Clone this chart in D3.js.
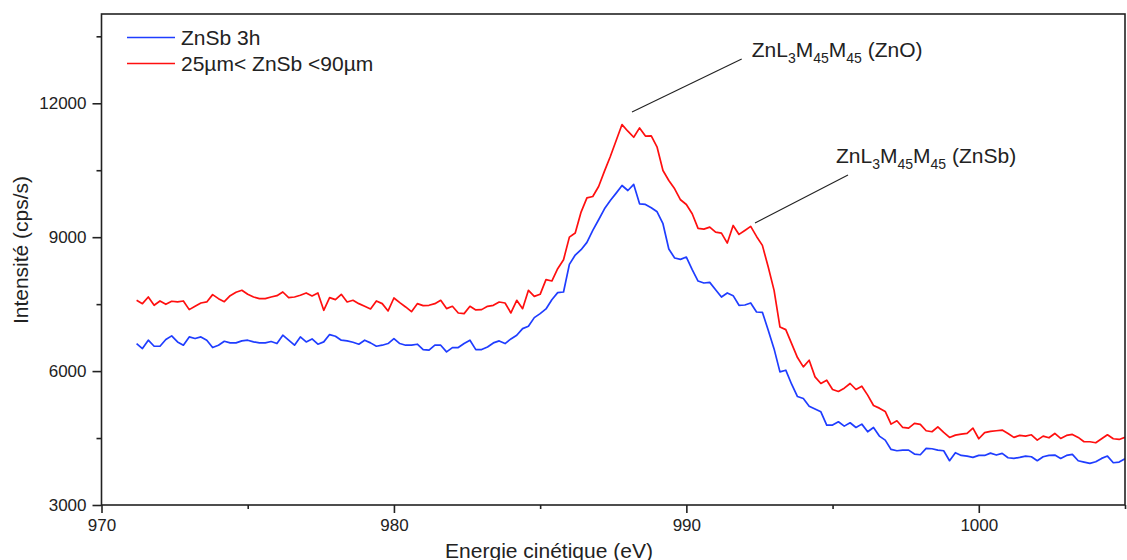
<!DOCTYPE html>
<html><head><meta charset="utf-8">
<script src="https://cdn.jsdelivr.net/npm/d3@7"></script>
<style>
body{margin:0;background:#fff}
svg{display:block}
text{font-family:"Liberation Sans",Arial,Helvetica,sans-serif;fill:#222}
</style>
</head><body>
<svg id="chart" width="1127" height="560"></svg>
<script>
// ---- data ----
const energyStart = 971.2;   // eV, first channel
const energyStep = 0.2;      // eV per channel
const seriesNames = ["ZnSb 3h", "25µm< ZnSb <90µm"];
const seriesColors = ["#1f3dff", "#ff0f0f"];
const blueCounts = [
 6617,6505,6692,6557,6557,6707,6789,6654,6580,6766,
 6729,6766,6692,6527,6580,6669,6632,6632,6677,6692,
 6654,6632,6632,6662,6617,6804,6692,6580,6766,6654,
 6721,6602,6654,6818,6781,6692,6677,6647,6602,6692,
 6632,6557,6580,6617,6729,6617,6580,6580,6602,6483,
 6468,6580,6580,6430,6527,6527,6617,6692,6480,6482,
 6541,6631,6676,6616,6721,6802,6952,7004,7198,7287,
 7392,7600,7757,7772,8391,8600,8719,8883,9152,9390,
 9636,9823,9987,10158,10046,10181,9748,9733,9659,9569,
 9301,8734,8533,8503,8555,8272,8018,7973,7988,7824,
 7660,7750,7690,7474,7481,7526,7324,7317,6914,6497,
 5982,6020,5706,5430,5386,5214,5150,5088,4790,4790,
 4864,4767,4842,4737,4812,4641,4737,4544,4454,4245,
 4216,4230,4230,4141,4126,4268,4260,4230,4216,3992,
 4171,4111,4096,4066,4111,4110,4163,4119,4156,4059,
 4044,4066,4096,4081,3992,4081,4111,4119,4044,4111,
 4134,3992,3962,3932,3969,4044,4096,3947,3962,4037
];
const redCounts = [
 7586,7511,7660,7474,7571,7496,7564,7549,7571,7377,
 7452,7526,7549,7713,7623,7556,7690,7765,7810,7720,
 7660,7623,7623,7660,7690,7772,7646,7660,7698,7750,
 7683,7750,7362,7646,7601,7720,7549,7586,7511,7452,
 7392,7571,7511,7347,7638,7534,7437,7332,7511,7467,
 7474,7511,7586,7400,7452,7302,7288,7452,7370,7377,
 7451,7474,7548,7526,7302,7586,7399,7809,7675,7720,
 8048,8018,8294,8495,9002,9092,9562,9882,9912,10136,
 10479,10807,11165,11523,11374,11239,11448,11265,11269,11016,
 10494,10270,10084,9838,9733,9524,9196,9181,9226,9114,
 9092,8868,9263,9062,9151,9241,9017,8816,8331,7809,
 6989,6929,6616,6303,6094,6243,5870,5722,5796,5588,
 5543,5617,5722,5588,5662,5461,5230,5170,5096,4812,
 4887,4737,4723,4827,4805,4663,4641,4752,4626,4514,
 4566,4588,4603,4723,4484,4620,4648,4663,4678,4603,
 4514,4559,4544,4573,4454,4544,4506,4603,4491,4559,
 4581,4514,4417,4417,4394,4484,4573,4484,4469,4514
];
const xMajorTicks = [970, 980, 990, 1000];
const xMinorTicks = [975, 985, 995, 1005];
const yMajorTicks = [3000, 6000, 9000, 12000];
const yMinorTicks = [4500, 7500, 10500, 13500];
const xDomain = [970, 1005];
const yDomain = [3000, 14000];
const xTitle = "Energie cinétique (eV)";
const yTitle = "Intensité (cps/s)";
// annotations: [label parts, anchor energy, anchor intensity]
const annotations = [
  {parts: ["ZnL", "3", "M", "45", "M", "45", " (ZnO)"], e: 988.2, v: 11750, textE: 982.3 + 10.1, textV: 13050},
  {parts: ["ZnL", "3", "M", "45", "M", "45", " (ZnSb)"], e: 992.5, v: 9270, textE: 995.1, textV: 10650}
];

// ---- layout ----
const L = 101.5, R = 1125, T = 14, B = 505;
const svg = d3.select("#chart");
const x = d3.scaleLinear().domain(xDomain).range([L, R]);
const y = d3.scaleLinear().domain(yDomain).range([B, T]);
const energies = blueCounts.map((_, i) => +(energyStart + i * energyStep).toFixed(2));

svg.append("defs").append("clipPath").attr("id", "clip")
  .append("rect").attr("x", L).attr("y", T).attr("width", R - L).attr("height", B - T);

const line = d3.line().x((d, i) => x(energies[i])).y(d => y(d));
[blueCounts, redCounts].forEach((s, k) => {
  svg.append("path").datum(s).attr("clip-path", "url(#clip)")
    .attr("fill", "none").attr("stroke", seriesColors[k]).attr("stroke-width", 1.7)
    .attr("stroke-linejoin", "round").attr("d", line);
});

// frame
svg.append("rect").attr("x", L).attr("y", T).attr("width", R - L).attr("height", B - T)
  .attr("fill", "none").attr("stroke", "#222").attr("stroke-width", 1.6);

function styleAxis(g) {
  g.select(".domain").remove();
  g.selectAll(".tick line").attr("stroke", "#222").attr("stroke-width", 1.6);
  g.selectAll("text").attr("font-size", 17).attr("fill", "#222")
    .style("font-family", '"Liberation Sans",Arial,sans-serif');
}
// bottom axis
svg.append("g").attr("transform", `translate(0,${B})`)
  .call(d3.axisBottom(x).tickValues(xMajorTicks).tickSize(8).tickPadding(6).tickFormat(d3.format("d")))
  .call(styleAxis);
svg.append("g").attr("transform", `translate(0,${B})`)
  .call(d3.axisBottom(x).tickValues(xMinorTicks).tickSize(4).tickFormat(""))
  .call(styleAxis);
// left axis
svg.append("g").attr("transform", `translate(${L},0)`)
  .call(d3.axisLeft(y).tickValues(yMajorTicks).tickSize(9).tickPadding(6).tickFormat(d3.format("d")))
  .call(styleAxis);
svg.append("g").attr("transform", `translate(${L},0)`)
  .call(d3.axisLeft(y).tickValues(yMinorTicks).tickSize(5).tickFormat(""))
  .call(styleAxis);

// axis titles
svg.append("text").attr("x", 549).attr("y", 557.5).attr("text-anchor", "middle")
  .attr("font-size", 21).text(xTitle);
svg.append("text").attr("transform", `translate(28,${250}) rotate(-90)`).attr("text-anchor", "middle")
  .attr("font-size", 21).text(yTitle);

// legend
seriesNames.forEach((n, k) => {
  const yy = 37.5 + k * 26;
  svg.append("line").attr("x1", 127).attr("x2", 175).attr("y1", yy).attr("y2", yy)
    .attr("stroke", seriesColors[k]).attr("stroke-width", 1.7);
  svg.append("text").attr("x", 181).attr("y", yy + 7.2).attr("font-size", 21).text(n);
});

// annotations
const annText = [
  {x: 751.7, y: 57.3, lx1: 632, ly1: 112, lx2: 741.7, ly2: 59},
  {x: 836, y: 163.3, lx1: 755, ly1: 223, lx2: 848, ly2: 175}
];
annotations.forEach((a, i) => {
  const p = annText[i];
  svg.append("line").attr("x1", p.lx1).attr("y1", p.ly1).attr("x2", p.lx2).attr("y2", p.ly2)
    .attr("stroke", "#222").attr("stroke-width", 1.1);
  const t = svg.append("text").attr("x", p.x).attr("y", p.y).attr("font-size", 21);
  a.parts.forEach((s, j) => {
    const sub = j % 2 === 1 && j < 6;
    const ts = t.append("tspan").text(s);
    if (sub) ts.attr("font-size", 14).attr("dy", 6);
    else if (j > 0) ts.attr("dy", -6);
  });
});
</script>
</body></html>
